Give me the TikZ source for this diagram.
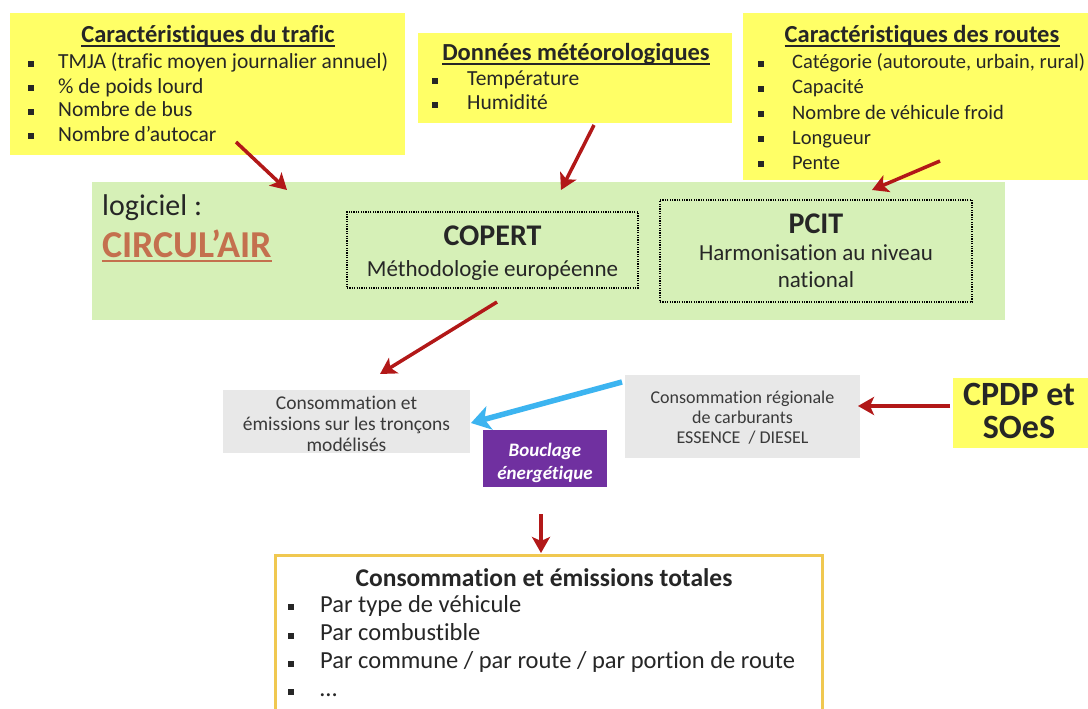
\documentclass[tikz,border=0pt]{standalone}
\usepackage{fontspec}
\setmainfont{Carlito}[Ligatures={NoCommon,NoContextual,NoRare},Contextuals={NoAlternate}]
\usetikzlibrary{arrows.meta}
\definecolor{yel}{RGB}{255,255,102}
\definecolor{grn}{RGB}{214,240,183}
\definecolor{gry}{RGB}{232,232,232}
\definecolor{purp}{RGB}{112,48,160}
\definecolor{darkred}{RGB}{178,24,24}
\definecolor{skyblue}{RGB}{60,180,240}
\definecolor{gold}{RGB}{240,200,80}
\definecolor{circ}{RGB}{196,112,78}
\definecolor{tdark}{RGB}{38,38,38}
\definecolor{tgray}{RGB}{58,58,58}
\newcommand\fsz[1]{\fontsize{#1}{#1}\selectfont}
\newcommand\sqb{\rule[1.8pt]{6pt}{6pt}}
\tikzset{
  panel/.style={anchor=north west, inner sep=0, outer sep=0},
  yelbox/.style={panel, fill=yel},
  txt/.style={inner sep=0, anchor=base, text=tdark},
  ltxt/.style={inner sep=0, anchor=base west, text=tdark},
  ttl/.style={txt, font=\fsz{24.5}\bfseries},
  ul/.style={line width=1.4pt, tdark},
  dotbox/.style={draw=black, line width=1.3pt, dash pattern=on 1.2pt off 1.2pt},
  redarrow/.style={draw=darkred, line width=3.5pt, -{Stealth[length=16pt,width=18pt,inset=4pt]}},
  bluearrow/.style={draw=skyblue, line width=5.5pt, -{Stealth[length=19pt,width=24pt,inset=5pt]}},
}
\begin{document}
\begin{tikzpicture}[x=1pt,y=-1pt]
\clip (0,0) rectangle (1088,709);
\fill[white] (0,0) rectangle (1088,709);

% ---------- top yellow boxes ----------
\node[yelbox, minimum width=395pt, minimum height=142pt] (trafic) at (10,13) {};
\node[yelbox, minimum width=314pt, minimum height=90pt] (meteo) at (418,33) {};
\node[yelbox, minimum width=345pt, minimum height=167pt] (routes) at (743,13) {};

\node[ttl] (t1) at (208,43) {Caractéristiques du trafic};
\draw[ul] ([yshift=-3pt]t1.base west) -- ([yshift=-3pt]t1.base east);
\node[ttl] (t2) at (576,61) {Données météorologiques};
\draw[ul] ([yshift=-3pt]t2.base west) -- ([yshift=-3pt]t2.base east);
\node[ttl] (t3) at (922,43) {Caractéristiques des routes};
\draw[ul] ([yshift=-3pt]t3.base west) -- ([yshift=-3pt]t3.base east);

\foreach \t [count=\i] in {{TMJA (trafic moyen journalier annuel)},{\% de poids lourd},{Nombre de bus},{Nombre d’autocar}}
  \node[ltxt, font=\fsz{21.5}] (tr\i) at (28,{69+24*(\i-1)}) {\makebox[30pt][l]{\sqb}\t};

\foreach \t [count=\i] in {{Température},{Humidité}}
  \node[ltxt, font=\fsz{21.5}] (me\i) at (432,{86+24*(\i-1)}) {\makebox[35pt][l]{\sqb}\t};

\foreach \t [count=\i] in {{Catégorie (autoroute, urbain, rural)},{Capacité},{Nombre de véhicule froid},{Longueur},{Pente}}
  \node[ltxt, font=\fsz{20.5}] (ro\i) at (758,{69+25*(\i-1)}) {\makebox[34pt][l]{\sqb}\t};

% ---------- green software box ----------
\node[panel, fill=grn, minimum width=913pt, minimum height=138pt] (soft) at (92,182) {};
\node[ltxt, font=\fsz{30}] (logi) at (102,215) {logiciel :};
\node[ltxt, font=\fsz{38}\bfseries, text=circ] (circ) at (102,257) {CIRCUL’AIR};
\draw[line width=2pt, circ] ([yshift=-3.5pt]circ.base west) -- ([yshift=-3.5pt]circ.base east);

\node[panel, dotbox, minimum width=291pt, minimum height=76pt] (copert) at (347,212) {};
\node[txt, font=\fsz{30}\bfseries] (copt) at (492.5,245) {COPERT};
\node[txt, font=\fsz{23}] (copm) at (492.5,276) {Méthodologie européenne};

\node[panel, dotbox, minimum width=312pt, minimum height=102pt] (pcit) at (660,200) {};
\node[txt, font=\fsz{30}\bfseries] (pcitt) at (816,233) {PCIT};
\node[txt, font=\fsz{23}] (pcith) at (816,260) {Harmonisation au niveau};
\node[txt, font=\fsz{23}] (pcitn) at (816,287) {national};

% ---------- middle row ----------
\node[panel, fill=gry, minimum width=247pt, minimum height=63pt] (troncons) at (223,390) {};
\node[txt, font=\fsz{19.5}, text=tgray] (tr1l) at (346.5,409) {Consommation et};
\node[txt, font=\fsz{19.5}, text=tgray] (tr2l) at (346.5,430) {émissions sur les tronçons};
\node[txt, font=\fsz{19.5}, text=tgray] (tr3l) at (346.5,451) {modélisés};

\node[panel, fill=purp, minimum width=124pt, minimum height=57pt] (boucl) at (483,430) {};
\node[txt, font=\fsz{19}\bfseries\itshape, text=white] (b1) at (545,456) {Bouclage};
\node[txt, font=\fsz{19}\bfseries\itshape, text=white] (b2) at (545,479) {énergétique};

\node[panel, fill=gry, minimum width=235pt, minimum height=83pt] (regio) at (625,375) {};
\node[txt, font=\fsz{18}, text=tgray] (r1) at (742.5,403) {Consommation régionale};
\node[txt, font=\fsz{18}, text=tgray] (r2) at (742.5,423) {de carburants};
\node[txt, font=\fsz{18}, text=tgray] (r3) at (742.5,443) {ESSENCE\ \ / DIESEL};

\node[yelbox, minimum width=135pt, minimum height=70pt] (cpdp) at (953,378) {};
\node[txt, font=\fsz{34}\bfseries] (c1) at (1019,405) {CPDP et};
\node[txt, font=\fsz{34}\bfseries] (c2) at (1019,438) {SOeS};

% ---------- bottom box ----------
\node[panel, fill=white, draw=gold, line width=3pt, minimum width=547pt, minimum height=170pt] (total) at (275,555) {};
\node[txt, font=\fsz{25.5}\bfseries] (tot) at (544,586) {Consommation et émissions totales};
\foreach \t [count=\i] in {{Par type de véhicule},{Par combustible},{Par commune / par route / par portion de route},{…}}
  \node[ltxt, font=\fsz{24.5}] (to\i) at (288,{612+28.3*(\i-1)}) {\makebox[32pt][l]{\sqb}\t};

% ---------- connectors ----------
\coordinate (a1s) at (236,142); \coordinate (a1e) at (287,190);
\coordinate (a2s) at (594,125); \coordinate (a2e) at (561,190);
\coordinate (a3s) at (940,161); \coordinate (a3e) at (872,190);
\coordinate (a4s) at (497,302); \coordinate (a4e) at (380,374);
\coordinate (bs) at (622,382);  \coordinate (be) at (471,423);
\coordinate (a6s) at (950,406); \coordinate (a6e) at (858,406);
\coordinate (a7s) at (541,514); \coordinate (a7e) at (541,553);

\draw[redarrow] (a1s) -- (a1e);
\draw[redarrow] (a2s) -- (a2e);
\draw[redarrow] (a3s) -- (a3e);
\draw[redarrow] (a4s) -- (a4e);
\draw[bluearrow] (bs) -- (be);
\draw[redarrow] (a6s) -- (a6e);
\draw[redarrow] (a7s) -- (a7e);
\end{tikzpicture}
\end{document}
